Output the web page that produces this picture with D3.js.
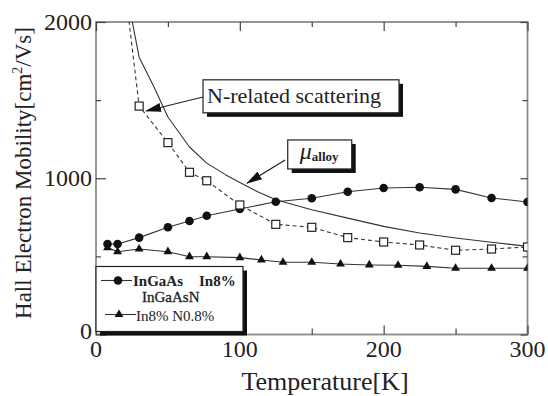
<!DOCTYPE html>
<html>
<head>
<meta charset="utf-8">
<script src="https://cdn.jsdelivr.net/npm/d3@7/dist/d3.min.js"></script>
<style>
  body { margin: 0; background: #fff; }
  svg text { font-family: "Liberation Serif", "Times New Roman", Times, serif; fill: #222; }
</style>
</head>
<body>
<div id="chart"></div>
<script>
// InGaAs In8% (filled circles)
const tInGaAs = [8, 15, 30, 50, 65, 77, 100, 125, 150, 175, 200, 225, 250, 275, 300];
const muInGaAs = [579, 579, 620, 686, 726, 760, 803, 850, 872, 914, 938, 942, 929, 874, 848];

// InGaAsN In8% N0.8% (filled triangles)
const tInGaAsN = [8, 15, 30, 50, 65, 77, 100, 115, 130, 150, 170, 190, 210, 230, 250, 275, 300];
const muInGaAsN = [556, 530, 547, 530, 498, 498, 492, 477, 462, 462, 451, 445, 443, 436, 424, 424, 424];

// open squares, dashed line (N-related scattering)
const tSquare = [30, 50, 65, 77, 100, 125, 150, 175, 200, 225, 250, 275, 300];
const muSquare = [1462, 1228, 1038, 984, 829, 705, 686, 620, 592, 573, 539, 547, 560];
const dashLeadIn = [20, 2230]; // dashed line runs off the top

// solid curve (mu alloy)
const tAlloy = [24, 30, 40, 50, 65, 77, 90, 100, 112, 125, 150, 175, 200, 225, 250, 275, 300];
const muAlloy = [2060, 1775, 1590, 1392, 1200, 1097, 1023, 973, 915, 862, 798, 745, 692, 650, 618, 590, 564];

const xTickLabels = [0, 100, 200, 300];
const yTickLabels = [0, 1000, 2000];
const legendLabels = ["InGaAs", "In8%", "InGaAsN", "In8% N0.8%"];

const svgWidth = 548, svgHeight = 396;
const serif = "'Liberation Serif', 'Times New Roman', Times, serif";

const svg = d3.select("#chart").append("svg")
  .attr("width", svgWidth)
  .attr("height", svgHeight)
  .attr("font-family", serif);

const x = d3.scaleLinear().domain([0, 300]).range([96, 527.5]);
const y = d3.scaleLinear().domain([0, 2000]).range([334.5, 22]);

const defs = svg.append("defs");
defs.append("clipPath").attr("id", "clip")
  .append("rect")
  .attr("x", x(0)).attr("y", y(2000))
  .attr("width", x(300) - x(0)).attr("height", y(0) - y(2000));

defs.append("marker")
  .attr("id", "arrow")
  .attr("markerUnits", "userSpaceOnUse")
  .attr("viewBox", "0 -5 16 10")
  .attr("refX", 15).attr("refY", 0)
  .attr("markerWidth", 16).attr("markerHeight", 10)
  .attr("orient", "auto")
  .append("path")
  .attr("d", "M0,-4.5L16,0L0,4.5Z")
  .attr("fill", "#111");

// frame
const frameColor = "#8a8a8a";
svg.append("rect")
  .attr("x", x(0)).attr("y", y(2000))
  .attr("width", x(300) - x(0)).attr("height", y(0) - y(2000))
  .attr("fill", "none").attr("stroke", frameColor).attr("stroke-width", 1.8);

// ticks
function tickGroup(axis, transform) {
  const g = svg.append("g").attr("transform", transform).call(axis);
  g.select(".domain").remove();
  g.selectAll("line").attr("stroke", "#444").attr("stroke-width", 1.2);
  return g;
}
const xMajor = d3.range(0, 301, 100), xMinor = d3.range(50, 300, 100);
const yMajor = d3.range(0, 2001, 1000), yMinor = d3.range(500, 2000, 1000);

tickGroup(d3.axisBottom(x).tickValues(xMajor).tickSize(-9).tickFormat(""), `translate(0,${y(0)})`);
tickGroup(d3.axisBottom(x).tickValues(xMinor).tickSize(-6).tickFormat(""), `translate(0,${y(0)})`);
tickGroup(d3.axisTop(x).tickValues(xMajor).tickSize(-9).tickFormat(""), `translate(0,${y(2000)})`);
tickGroup(d3.axisTop(x).tickValues(xMinor).tickSize(-5).tickFormat(""), `translate(0,${y(2000)})`);
tickGroup(d3.axisLeft(y).tickValues(yMajor).tickSize(-10).tickFormat(""), `translate(${x(0)},0)`);
tickGroup(d3.axisLeft(y).tickValues(yMinor).tickSize(-5).tickFormat(""), `translate(${x(0)},0)`);
tickGroup(d3.axisRight(y).tickValues(yMajor).tickSize(-7).tickFormat(""), `translate(${x(300)},0)`);
tickGroup(d3.axisRight(y).tickValues(yMinor).tickSize(-5).tickFormat(""), `translate(${x(300)},0)`);

// tick labels
svg.append("g").selectAll("text")
  .data(xTickLabels).enter().append("text")
  .attr("x", d => x(d)).attr("y", 357)
  .attr("text-anchor", "middle")
  .attr("font-size", 24)
  .text(d => d);

svg.append("g").selectAll("text")
  .data(yTickLabels).enter().append("text")
  .attr("x", x(0) - 4).attr("y", d => y(d) + (d === 0 ? 4 : 8))
  .attr("text-anchor", "end")
  .attr("font-size", 24)
  .text(d => d);

// axis titles
svg.append("text")
  .attr("x", 325).attr("y", 390)
  .attr("text-anchor", "middle")
  .attr("font-size", 26)
  .text("Temperature[K]");

const yTitle = svg.append("text")
  .attr("transform", "translate(31,173) rotate(-90)")
  .attr("text-anchor", "middle")
  .attr("font-size", 23);
yTitle.append("tspan").text("Hall Electron Mobility[cm");
yTitle.append("tspan").attr("font-size", 14).attr("dy", -9).text("2");
yTitle.append("tspan").attr("dy", 9).text("/Vs]");

// data layer
const plot = svg.append("g").attr("clip-path", "url(#clip)");
const lineColor = "#333";

const lineGen = d3.line().x(d => x(d[0])).y(d => y(d[1]));

const alloyData = tAlloy.map((t, i) => [t, muAlloy[i]]);
const squareData = tSquare.map((t, i) => [t, muSquare[i]]);
const circleData = tInGaAs.map((t, i) => [t, muInGaAs[i]]);
const triData = tInGaAsN.map((t, i) => [t, muInGaAsN[i]]);

plot.append("path")
  .datum(alloyData)
  .attr("d", lineGen)
  .attr("fill", "none").attr("stroke", lineColor).attr("stroke-width", 1.1)
  .attr("stroke-linejoin", "round");

plot.append("path")
  .datum([dashLeadIn].concat(squareData))
  .attr("d", lineGen)
  .attr("fill", "none").attr("stroke", lineColor).attr("stroke-width", 1.1)
  .attr("stroke-dasharray", "4,3");

plot.append("path")
  .datum(triData)
  .attr("d", lineGen)
  .attr("fill", "none").attr("stroke", lineColor).attr("stroke-width", 1.1);

plot.append("path")
  .datum(circleData)
  .attr("d", lineGen)
  .attr("fill", "none").attr("stroke", lineColor).attr("stroke-width", 1.1);

const triSym = d3.symbol().type(d3.symbolTriangle).size(34);

plot.append("g").selectAll("path")
  .data(triData).enter().append("path")
  .attr("d", triSym)
  .attr("transform", d => `translate(${x(d[0])},${y(d[1])})`)
  .attr("fill", "#111");

plot.append("g").selectAll("circle")
  .data(circleData).enter().append("circle")
  .attr("cx", d => x(d[0])).attr("cy", d => y(d[1]))
  .attr("r", 4.3)
  .attr("fill", "#111");

plot.append("g").selectAll("rect")
  .data(squareData).enter().append("rect")
  .attr("x", d => x(d[0]) - 4).attr("y", d => y(d[1]) - 4)
  .attr("width", 8).attr("height", 8)
  .attr("fill", "#fff").attr("stroke", "#222").attr("stroke-width", 1.2);

// annotations (positions in data units)
function labelBox(bx, by, w, h) {
  const g = svg.append("g");
  g.append("rect")
    .attr("x", x(bx) + 4).attr("y", y(by) + 4)
    .attr("width", w).attr("height", h)
    .attr("fill", "#111");
  g.append("rect")
    .attr("x", x(bx)).attr("y", y(by))
    .attr("width", w).attr("height", h)
    .attr("fill", "#fff").attr("stroke", "#222").attr("stroke-width", 1.2);
  return g;
}

svg.append("line")
  .attr("x1", x(74.4)).attr("y1", y(1520))
  .attr("x2", x(34.8)).attr("y2", y(1430))
  .attr("stroke", "#222").attr("stroke-width", 1.1)
  .attr("marker-end", "url(#arrow)");

svg.append("line")
  .attr("x1", x(131.5)).attr("y1", y(1117))
  .attr("x2", x(105)).attr("y2", y(968))
  .attr("stroke", "#222").attr("stroke-width", 1.1)
  .attr("marker-end", "url(#arrow)");

labelBox(74.4, 1630, 196, 33)
  .append("text")
  .attr("x", x(74.4) + 4).attr("y", y(1630) + 23)
  .attr("font-size", 22)
  .text("N-related scattering");

const alloyBox = labelBox(133.3, 1245, 64, 29);
const alloyText = alloyBox.append("text")
  .attr("x", x(133.3) + 12).attr("y", y(1245) + 19);
alloyText.append("tspan").attr("font-size", 24).attr("font-style", "italic").text("\u03bc");
alloyText.append("tspan").attr("font-size", 13).attr("font-weight", "bold").attr("dy", 2).text("alloy");

// legend
const legend = svg.append("g");
const lx = x(0), ly = 266.5, lw = 147, lh = 65;
legend.append("rect")
  .attr("x", lx + 4).attr("y", ly + 4).attr("width", lw).attr("height", lh)
  .attr("fill", "#111");
legend.append("rect")
  .attr("x", lx).attr("y", ly).attr("width", lw).attr("height", lh)
  .attr("fill", "#fff").attr("stroke", "#222").attr("stroke-width", 1.2);

legend.append("line")
  .attr("x1", lx + 5).attr("x2", lx + 36).attr("y1", ly + 14).attr("y2", ly + 14)
  .attr("stroke", lineColor).attr("stroke-width", 1.1);
legend.append("circle")
  .attr("cx", lx + 22).attr("cy", ly + 14).attr("r", 4.3).attr("fill", "#111");
legend.append("text")
  .attr("x", lx + 37).attr("y", ly + 19)
  .attr("font-size", 15).attr("font-weight", "bold")
  .text(legendLabels[0]);
legend.append("text")
  .attr("x", lx + 103).attr("y", ly + 19)
  .attr("font-size", 15).attr("font-weight", "bold")
  .text(legendLabels[1]);
legend.append("text")
  .attr("x", lx + 46).attr("y", ly + 35)
  .attr("font-size", 15).attr("stroke", "#222").attr("stroke-width", 0.3)
  .text(legendLabels[2]);
legend.append("line")
  .attr("x1", lx + 9).attr("x2", lx + 40).attr("y1", ly + 48).attr("y2", ly + 48)
  .attr("stroke", lineColor).attr("stroke-width", 1.1);
legend.append("path")
  .attr("d", triSym)
  .attr("transform", `translate(${lx + 23},${ly + 48})`)
  .attr("fill", "#111");
legend.append("text")
  .attr("x", lx + 40).attr("y", ly + 54)
  .attr("font-size", 15)
  .text(legendLabels[3]);
</script>
</body>
</html>
